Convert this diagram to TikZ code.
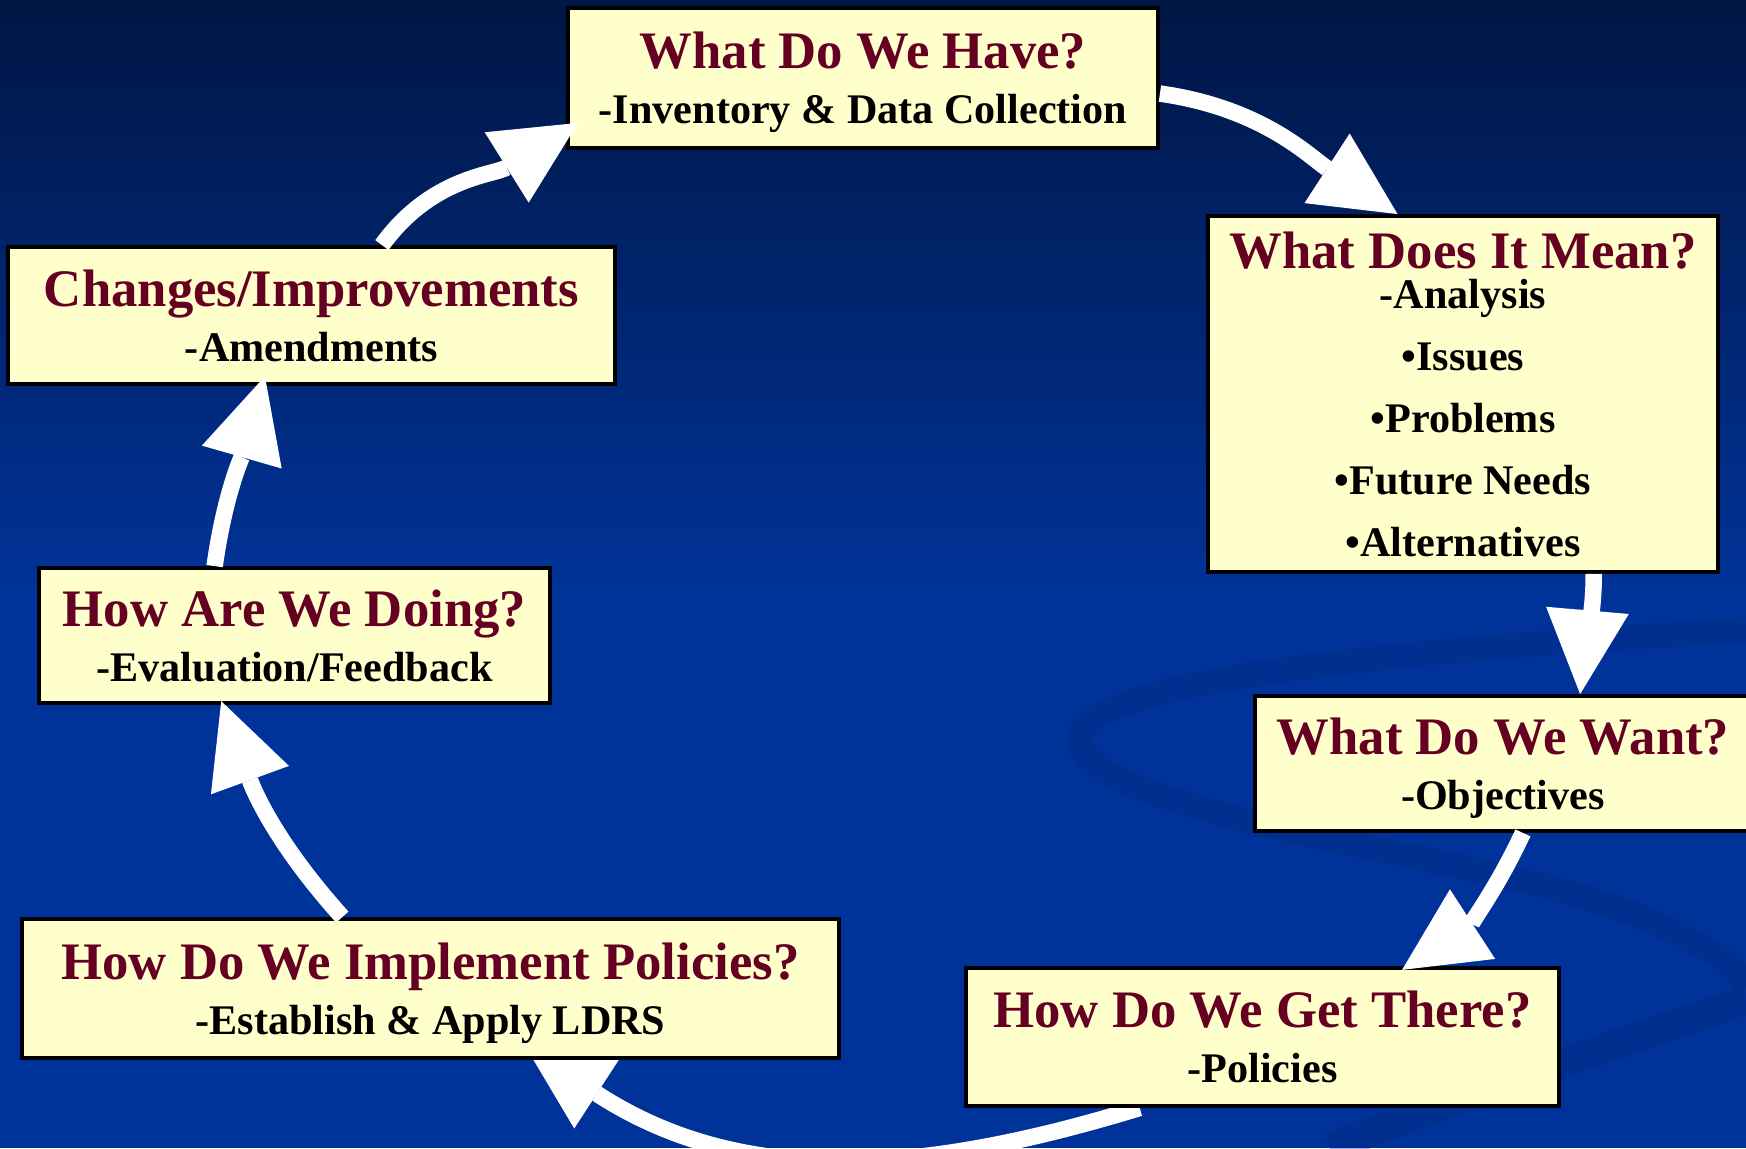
\documentclass[tikz,border=0pt]{standalone}
\usepackage{fontspec}
\setmainfont{Liberation Serif}
\usetikzlibrary{arrows.meta}

\definecolor{bgtop}{RGB}{0,22,68}
\definecolor{bgblue}{RGB}{0,51,153}
\definecolor{swirlblue}{RGB}{0,40,128}
\definecolor{boxfill}{RGB}{255,255,204}
\definecolor{titlered}{RGB}{102,0,34}

\newcommand{\qtitle}[1]{{\fontsize{15}{18}\selectfont\color{titlered}#1}}

\pgfdeclarelayer{back}
\pgfdeclarelayer{under}
\pgfsetlayers{back,under,main}

\begin{document}
\begin{tikzpicture}[
    qbox/.style={draw=black, line width=1.1pt, fill=boxfill, align=center, inner sep=0pt,
        text depth=0pt, font=\bfseries\fontsize{12}{15.6}\selectfont},
    flowarrow/.style={draw=white, line width=0.165cm,
        -{Triangle[length=0.84cm, width=0.83cm, line width=0pt]}},
]
\useasboundingbox (0,0) rectangle (17.46,11.48);

\begin{pgfonlayer}{back}
\fill[bgblue] (0,0) rectangle (17.46,11.48);
\shade[top color=bgtop, bottom color=bgblue] (0,5.5) rectangle (17.46,11.48);
\draw[swirlblue, line width=0.25cm, opacity=0.35]
 (17.46,5.18) .. controls (14.00,4.98) and (10.80,4.68) .. (10.80,4.08)
 .. controls (10.80,3.48) and (13.50,3.08) .. (15.20,2.68)
 .. controls (16.50,2.38) and (17.46,1.88) .. (17.46,1.58);
\draw[swirlblue, line width=0.3cm, opacity=0.35]
 (17.46,1.48) .. controls (16.00,0.98) and (14.50,0.48) .. (13.30,0);
\end{pgfonlayer}

\node[qbox, minimum width=5.90cm, minimum height=1.40cm] (have) at (8.63,10.70)
 {\qtitle{What Do We Have?}\\ -Inventory \& Data Collection};
\node[qbox, minimum width=5.10cm, minimum height=3.56cm] (mean) at (14.63,7.54)
 {\qtitle{What Does It Mean?}\\[-4.2pt] -Analysis\\[2pt] •Issues\\[2pt] •Problems\\[2pt]
  •Future Needs\\[2pt] •Alternatives};
\node[qbox, minimum width=4.96cm, minimum height=1.35cm] (want) at (15.03,3.845)
 {\qtitle{What Do We Want?}\\ -Objectives};
\node[qbox, minimum width=5.93cm, minimum height=1.38cm] (there) at (12.625,1.11)
 {\qtitle{How Do We Get There?}\\ -Policies};
\node[qbox, minimum width=8.17cm, minimum height=1.39cm] (impl) at (4.305,1.595)
 {\qtitle{How Do We Implement Policies?}\\ -Establish \& Apply LDRS};
\node[qbox, minimum width=5.11cm, minimum height=1.35cm] (doing) at (2.945,5.125)
 {\qtitle{How Are We Doing?}\\ -Evaluation/Feedback};
\node[qbox, minimum width=6.07cm, minimum height=1.37cm] (change) at (3.115,8.325)
 {\qtitle{Changes/Improvements}\\ -Amendments};

\draw[flowarrow] (have.-3) to[out=-8, in=147] (mean.110);
\draw[flowarrow] (mean.-54.5) to[out=-90, in=85] (want.42);
\draw[flowarrow, shorten >=-0.07cm] (want.-74) to[out=245, in=33] (there.26);
\begin{pgfonlayer}{under}
\draw[flowarrow, shorten >=-0.22cm] (there.210) to[out=197, in=-33] (impl.-32);
\end{pgfonlayer}
\draw[flowarrow, shorten >=-0.04cm] (impl.141) to[out=132, in=-70] (doing.224);
\draw[flowarrow, shorten >=-0.1cm] (doing.139) to[out=82, in=-106] (change.235);
\draw[flowarrow, shorten >=-0.14cm] (change.45) to[out=54, in=-148] (have.190);

\end{tikzpicture}
\end{document}
